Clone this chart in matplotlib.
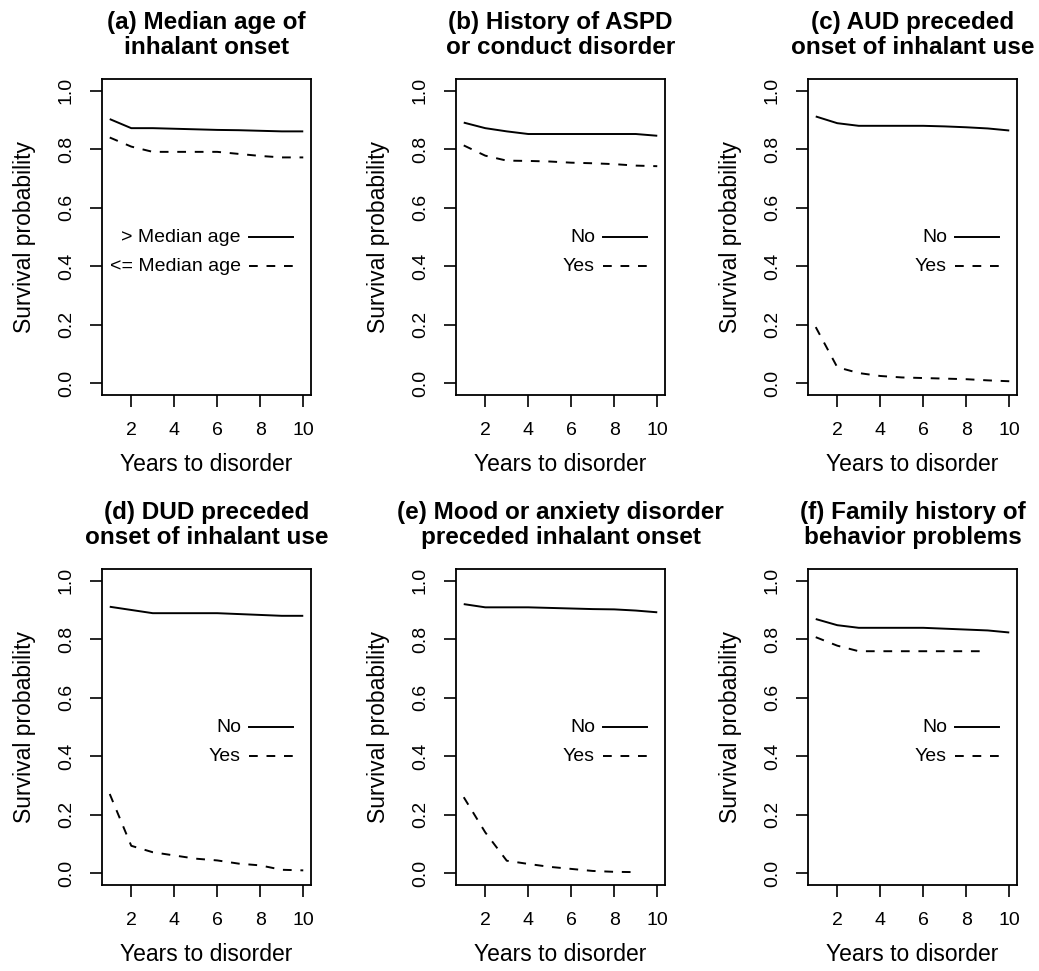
import numpy as np
import matplotlib
matplotlib.use("Agg")
import matplotlib.pyplot as plt

plt.rcParams['font.family'] = ['Liberation Sans', 'DejaVu Sans']

# === data ===
years = [1, 2, 3, 4, 5, 6, 7, 8, 9, 10]
years_to9 = [1, 2, 3, 4, 5, 6, 7, 8, 9]

titles = ["(a) Median age of\ninhalant onset",
          "(b) History of ASPD\nor conduct disorder",
          "(c) AUD preceded\nonset of inhalant use",
          "(d) DUD preceded\nonset of inhalant use",
          "(e) Mood or anxiety disorder\npreceded inhalant onset",
          "(f) Family history of\nbehavior problems"]

legend_labels = [("> Median age", "<= Median age"),
                 ("No", "Yes"), ("No", "Yes"),
                 ("No", "Yes"), ("No", "Yes"), ("No", "Yes")]

a_solid = [0.903, 0.872, 0.872, 0.870, 0.868, 0.866, 0.865, 0.863, 0.861, 0.861]
a_dash = [0.840, 0.809, 0.791, 0.791, 0.791, 0.791, 0.784, 0.777, 0.772, 0.772]
b_solid = [0.891, 0.872, 0.861, 0.852, 0.852, 0.852, 0.852, 0.852, 0.852, 0.846]
b_dash = [0.813, 0.778, 0.761, 0.760, 0.758, 0.754, 0.752, 0.749, 0.744, 0.742]
c_solid = [0.912, 0.889, 0.880, 0.880, 0.880, 0.880, 0.878, 0.875, 0.871, 0.864]
c_dash = [0.192, 0.055, 0.035, 0.025, 0.020, 0.018, 0.016, 0.014, 0.010, 0.007]
d_solid = [0.911, 0.900, 0.889, 0.889, 0.889, 0.889, 0.886, 0.883, 0.880, 0.880]
d_dash = [0.271, 0.094, 0.072, 0.061, 0.050, 0.044, 0.033, 0.027, 0.012, 0.010]
e_solid = [0.920, 0.909, 0.909, 0.909, 0.907, 0.905, 0.903, 0.902, 0.898, 0.892]
e_dash = [0.260, 0.140, 0.043, 0.032, 0.022, 0.015, 0.008, 0.005, 0.004]
f_solid = [0.869, 0.848, 0.839, 0.839, 0.839, 0.839, 0.836, 0.833, 0.830, 0.823]
f_dash = [0.807, 0.778, 0.759, 0.759, 0.759, 0.759, 0.759, 0.759, 0.759]

panels = [(years, a_solid, years, a_dash),
          (years, b_solid, years, b_dash),
          (years, c_solid, years, c_dash),
          (years, d_solid, years, d_dash),
          (years, e_solid, years_to9, e_dash),
          (years, f_solid, years_to9, f_dash)]

# === layout (pixels -> figure fractions) ===
W, H = 1039, 971
lefts = [102, 456, 808]
tops = [79, 569]
ax_w, ax_h = 209, 316

fig = plt.figure(figsize=(W / 100, H / 100), dpi=100)

LW = 1.4
DASH = (4.5, 4.5)

for i, (xs, ys_s, xd, ys_d) in enumerate(panels):
    r, c = divmod(i, 3)
    ax = fig.add_axes([lefts[c] / W, 1 - (tops[r] + ax_h) / H, ax_w / W, ax_h / H])
    ax.plot(xs, ys_s, color='black', lw=LW, solid_capstyle='butt')
    ax.plot(xd, ys_d, color='black', lw=LW, dashes=DASH)

    # R-style legend: right-aligned text, line sample after it
    lab1, lab2 = legend_labels[i]
    for lab, yy, ls in [(lab1, 0.5, None), (lab2, 0.407, DASH)]:
        ax.text(0.665, yy, lab, transform=ax.transAxes, ha='right', va='center',
                fontsize=14)
        kw = dict(dashes=ls) if ls else {}
        ax.plot([0.703, 0.913], [yy, yy], transform=ax.transAxes, color='black',
                lw=LW, **kw)

    ax.set_xlim(0.64, 10.36)
    ax.set_ylim(-0.04, 1.04)
    ax.set_xticks([2, 4, 6, 8, 10])
    ax.set_yticks([0.0, 0.2, 0.4, 0.6, 0.8, 1.0])
    ax.set_yticklabels(["0.0", "0.2", "0.4", "0.6", "0.8", "1.0"])
    ax.tick_params(direction='out', length=8.6, width=1.2, labelsize=14, pad=11)
    ax.tick_params(axis='y', labelrotation=90)
    for lab in ax.get_yticklabels():
        lab.set_va('center')
    for sp in ax.spines.values():
        sp.set_linewidth(1.3)

    ax.set_xlabel("Years to disorder", fontsize=16.5, labelpad=10)
    ax.set_ylabel("Survival probability", fontsize=16.5, labelpad=16)
    ax.set_title(titles[i], fontsize=17.5, fontweight='bold', linespacing=1.1, pad=18)

fig.savefig("out.png", dpi=100)
